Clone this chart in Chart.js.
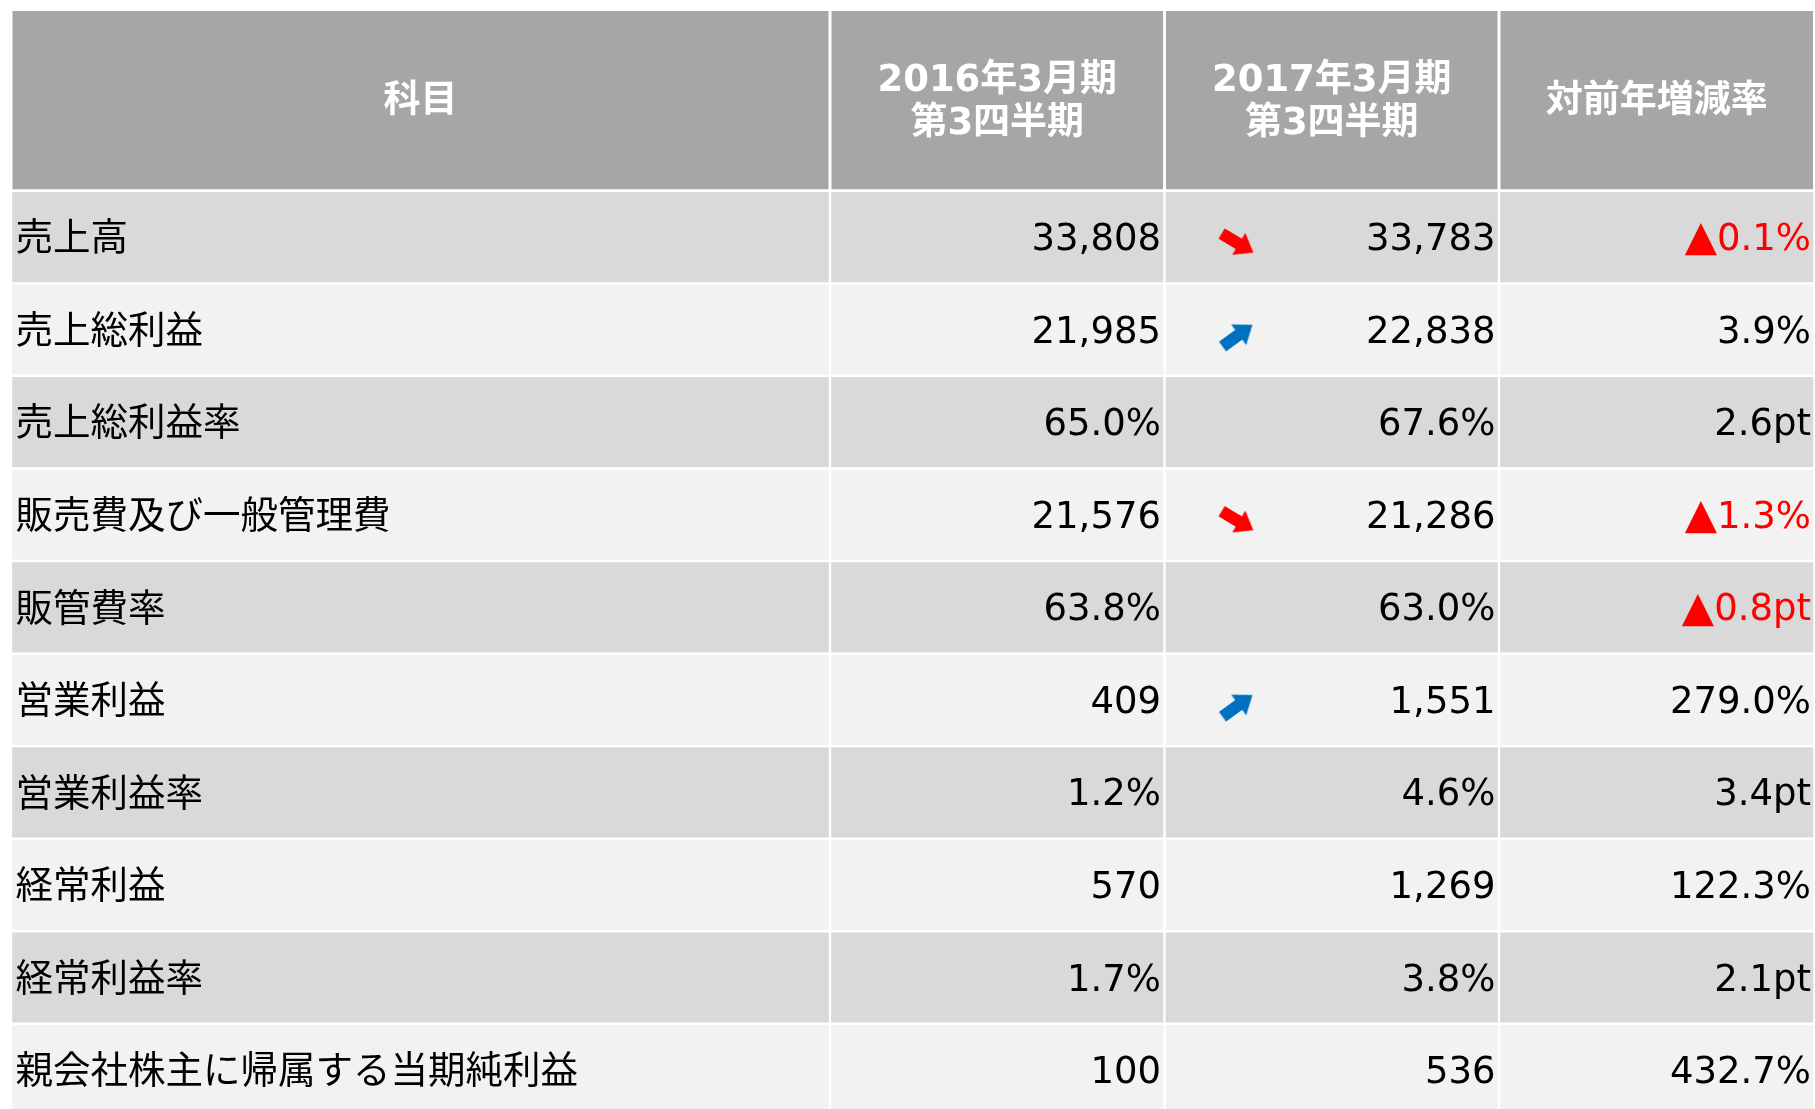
<!DOCTYPE html>
<html lang="ja">
<head>
<meta charset="utf-8">
<title>連結業績 第3四半期</title>
<script src="https://cdn.jsdelivr.net/npm/chart.js@4.4.1/dist/chart.umd.min.js"></script>
<style>
  html, body { margin: 0; padding: 0; background: #fff; }
  #wrap { position: relative; width: 1815px; height: 1109px; }
</style>
</head>
<body>
<div id="wrap"><canvas id="table"></canvas></div>
<script>
// ---- data (百万円 / %) ----
const headers = ['科目', ['2016年3月期', '第3四半期'], ['2017年3月期', '第3四半期'], '対前年増減率'];
const subjects = ['売上高', '売上総利益', '売上総利益率', '販売費及び一般管理費', '販管費率',
                  '営業利益', '営業利益率', '経常利益', '経常利益率', '親会社株主に帰属する当期純利益'];
const kind = ['amount', 'amount', 'ratio', 'amount', 'ratio', 'amount', 'ratio', 'amount', 'ratio', 'amount'];
const fy2016 = [33808, 21985, 65.0, 21576, 63.8, 409, 1.2, 570, 1.7, 100];
const fy2017 = [33783, 22838, 67.6, 21286, 63.0, 1551, 4.6, 1269, 3.8, 536];
const yoyChange = [-0.1, 3.9, 2.6, -1.3, -0.8, 279.0, 3.4, 122.3, 2.1, 432.7];
const yoyUnit = ['%', '%', 'pt', '%', 'pt', '%', 'pt', '%', 'pt', '%'];
const trend = ['down', 'up', null, 'down', null, 'up', null, null, null, null];

// ---- layout ----
const COL_W = [819, 334.5, 334.5, 315.5];
const HEAD_H = 1.959;      // header height, in row units
const Y_MAX = 11.88;       // the last row is cut by the frame
const ARROW_DX = 73;
const ARROW_DY = 0.065;
const colEdges = COL_W.reduce((acc, w) => { acc.push(acc[acc.length - 1] + w); return acc; }, [0]);
const rowCenter = r => HEAD_H + r + 0.5;

const HEAD_FONT = 'bold 37px "DejaVu Sans", "Noto Sans CJK JP", sans-serif';
const LABEL_FONT = '37.5px "DejaVu Sans", "Noto Sans CJK JP", sans-serif';
const NUM_FONT = '37px "DejaVu Sans", "Noto Sans CJK JP", sans-serif';
const MARK_FONT = '42px "DejaVu Sans", sans-serif';

function fmt(v, k) {
    return k === 'ratio' ? v.toFixed(1) + '%' : v.toLocaleString('en-US');
}

function cellText(row, col) {
    if (col === 0) return { text: subjects[row], color: '#000', align: 'left', font: LABEL_FONT };
    if (col === 1) return { text: fmt(fy2016[row], kind[row]), color: '#000', align: 'right', font: NUM_FONT };
    if (col === 2) return { text: fmt(fy2017[row], kind[row]), color: '#000', align: 'right', font: NUM_FONT };
    const v = yoyChange[row];
    return {
        text: Math.abs(v).toFixed(1) + yoyUnit[row],
        mark: v < 0 ? '▲' : '',
        color: v < 0 ? '#FF0000' : '#000',
        align: 'right',
        font: NUM_FONT
    };
}

function makeArrow(color) {
    const c = document.createElement('canvas');
    c.width = 46; c.height = 46;
    const g = c.getContext('2d');
    g.translate(23, 23);
    g.fillStyle = color;
    g.beginPath();
    g.moveTo(-18.5, -6);
    g.lineTo(1.5, -6);
    g.lineTo(1.5, -12.7);
    g.lineTo(18.5, 0);
    g.lineTo(1.5, 12.7);
    g.lineTo(1.5, 6);
    g.lineTo(-18.5, 6);
    g.closePath();
    g.fill();
    return c;
}
const arrowDown = makeArrow('#FF0000');
const arrowUp = makeArrow('#0070C0');

const headCells = headers.map((h, c) => ({ x: [colEdges[c], colEdges[c + 1]], y: HEAD_H / 2, row: -1, col: c }));
const bodyCells = [];
subjects.forEach((s, r) => {
    for (let c = 0; c < 4; c++) {
        bodyCells.push({ x: [colEdges[c], colEdges[c + 1]], y: rowCenter(r), row: r, col: c });
    }
});
const arrowPoints = [];
trend.forEach((t, r) => {
    if (t) arrowPoints.push({ x: colEdges[2] + ARROW_DX, y: rowCenter(r) + ARROW_DY, dir: t });
});

// texts are written into the cells the bars drew
const cellLabels = {
    id: 'cellLabels',
    afterDatasetsDraw(chart) {
        const ctx = chart.ctx;
        ctx.save();
        ctx.textBaseline = 'middle';

        chart.getDatasetMeta(0).data.forEach((bar, i) => {
            const cell = chart.data.datasets[0].data[i];
            const { x, base, y } = bar.getProps(['x', 'base', 'y'], true);
            const cx = (x + base) / 2;
            ctx.fillStyle = '#fff';
            ctx.font = HEAD_FONT;
            ctx.textAlign = 'center';
            const lines = Array.isArray(headers[cell.col]) ? headers[cell.col] : [headers[cell.col]];
            const lh = 43;
            lines.forEach((ln, k) => {
                ctx.fillText(ln, cx, y + 2.5 + (k - (lines.length - 1) / 2) * lh);
            });
        });

        chart.getDatasetMeta(1).data.forEach((bar, i) => {
            const cell = chart.data.datasets[1].data[i];
            const { x, base, y } = bar.getProps(['x', 'base', 'y'], true);
            const left = Math.min(x, base), right = Math.max(x, base);
            const t = cellText(cell.row, cell.col);
            const ty = y + 3.5;
            ctx.font = t.font;
            ctx.fillStyle = t.color;
            ctx.textAlign = t.align;
            const tx = t.align === 'left' ? left + 4.5 : right - 3.5;
            ctx.fillText(t.text, tx, ty);
            if (t.mark) {
                const w = ctx.measureText(t.text).width;
                ctx.font = MARK_FONT;
                ctx.fillText(t.mark, tx - w, ty - 1);
            }
        });
        ctx.restore();
    }
};

new Chart(document.getElementById('table'), {
    type: 'bar',
    data: {
        datasets: [
            {
                label: 'header',
                data: headCells,
                order: 2,
                indexAxis: 'y',
                grouped: false,
                categoryPercentage: 1,
                barPercentage: HEAD_H,
                backgroundColor: '#A6A6A6',
                borderColor: '#FFFFFF',
                borderWidth: 1.5,
                borderSkipped: false
            },
            {
                label: 'body',
                data: bodyCells,
                order: 2,
                indexAxis: 'y',
                grouped: false,
                categoryPercentage: 1,
                barPercentage: 1,
                backgroundColor: ctx => (ctx.raw && ctx.raw.row % 2 === 1) ? '#F2F2F2' : '#D9D9D9',
                borderColor: '#FFFFFF',
                borderWidth: 1.5,
                borderSkipped: false
            },
            {
                type: 'scatter',
                label: 'trend',
                order: 0,
                indexAxis: 'x',
                data: arrowPoints,
                pointStyle: ctx => (ctx.raw && ctx.raw.dir === 'up') ? arrowUp : arrowDown,
                rotation: ctx => (ctx.raw && ctx.raw.dir === 'up') ? -36 : 31,
                radius: 20,
                showLine: false,
                clip: false
            }
        ]
    },
    options: {
        indexAxis: 'y',
        responsive: true,
        maintainAspectRatio: false,
        animation: false,
        events: [],
        layout: { autoPadding: false, padding: { left: 11, right: 0.5, top: 9.5, bottom: 0 } },
        plugins: {
            legend: { display: false },
            tooltip: { enabled: false }
        },
        scales: {
            x: {
                type: 'linear',
                display: false,
                offset: false,
                min: 0,
                max: colEdges[colEdges.length - 1]
            },
            y: {
                type: 'linear',
                display: false,
                offset: false,
                reverse: true,
                min: 0,
                max: Y_MAX,
                afterBuildTicks: scale => {
                    scale.ticks = [{ value: 0 }, { value: Y_MAX }];
                }
            }
        }
    },
    plugins: [cellLabels]
});
</script>
</body>
</html>
